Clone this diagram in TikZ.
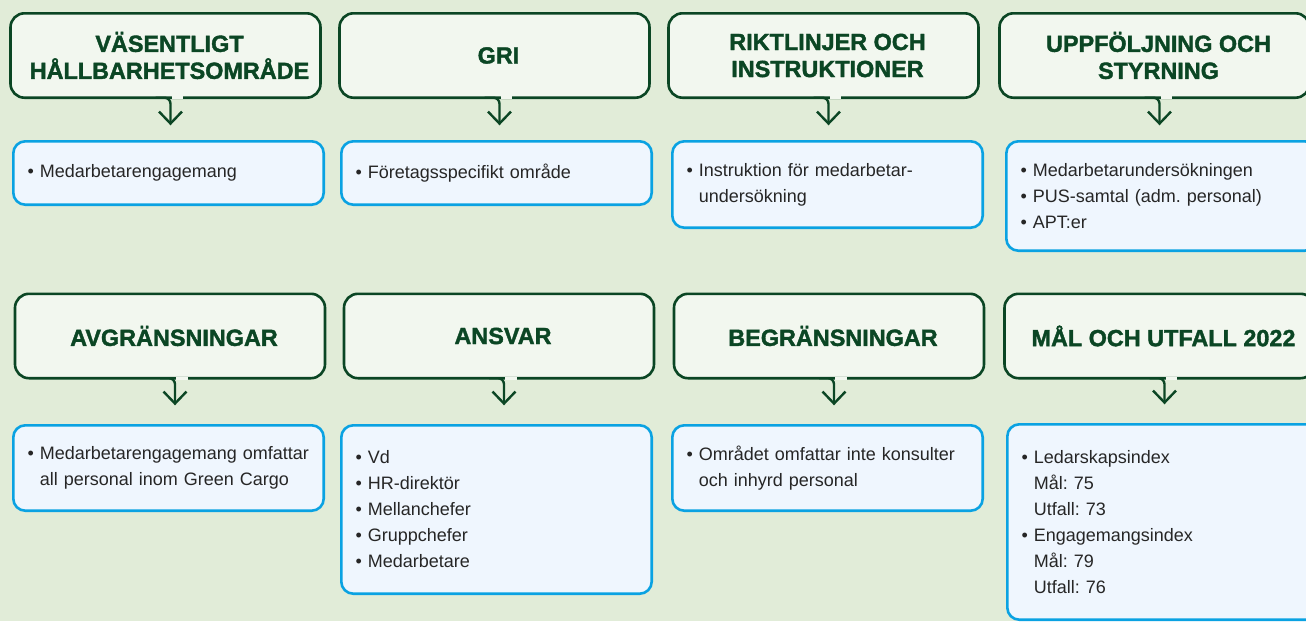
\documentclass[tikz,border=0pt]{standalone}
\usepackage{fontspec}
\setmainfont{Liberation Sans}[BoldFeatures={FakeBold=1.6}]
\usetikzlibrary{arrows.meta}

\definecolor{bgGreen}{HTML}{E1ECD8}
\definecolor{headFill}{HTML}{F2F7EF}
\definecolor{darkGreen}{HTML}{0B4624}
\definecolor{infoBlue}{HTML}{0AA2E2}
\definecolor{infoFill}{HTML}{EFF6FE}
\definecolor{bodyGray}{HTML}{262626}

\newcommand{\itm}{\textbullet\ }
\newcommand{\cnt}{\hphantom{\textbullet\ }}
\frenchspacing

\begin{document}
\begin{tikzpicture}[x=1pt,y=-1pt,
    head/.style={draw=darkGreen, fill=headFill, line width=2.6pt, rounded corners=14pt,
      minimum width=310pt, minimum height=84.4pt, inner sep=0pt, outer sep=0pt},
    title/.style={text=darkGreen, align=center, xshift=4pt,
      font=\fontsize{23.4}{27}\selectfont\bfseries},
    info/.style={draw=infoBlue, fill=infoFill, line width=2.6pt, rounded corners=12pt,
      minimum width=310.4pt, text width=282pt, inner xsep=14.2pt, inner ysep=0pt,
      outer sep=0pt, align=left, anchor=north, text=bodyGray,
      font=\fontsize{18}{26}\selectfont},
    gap/.style={draw=headFill, line width=3.2pt},
    conn/.style={draw=darkGreen, line width=2.4pt, rounded corners=6pt,
      -{Straight Barb[length=12pt,width=23pt]}}]
  \useasboundingbox (0,0) rectangle (1306,621);
  \clip (0,0) rectangle (1306,621);
  \fill[bgGreen] (0,0) rectangle (1306,621);

  % upper row
  \node[head, label={[title]center:{VÄSENTLIGT\\HÅLLBARHETSOMRÅDE}}] (hd1) at (165.5,55.5) {};
  \node[head, label={[title]center:{GRI}}] (hd2) at (494.5,55.5) {};
  \node[head, label={[title]center:{RIKTLINJER OCH\\INSTRUKTIONER}}] (hd3) at (823.5,55.5) {};
  \node[head, label={[title]center:{UPPFÖLJNING OCH\\STYRNING}}] (hd4) at (1154.5,55.5) {};

  \node[info, minimum height=63.4pt] (bx1) at (168.5,141.3) {\itm Medarbetarengagemang};
  \node[info, minimum height=63.4pt] (bx2) at (496.5,141.3) {\itm Företagsspecifikt område};
  \node[info, minimum height=86.4pt] (bx3) at (827.5,141.3)
    {\itm Instruktion för medarbetar-\\\cnt undersökning};
  \node[info, minimum height=109.4pt] (bx4) at (1161.5,141.3)
    {\itm Medarbetarundersökningen\\\itm PUS-samtal (adm. personal)\\\itm APT:er};

  % lower row
  \node[head, label={[title]center:{AVGRÄNSNINGAR}}] (hd5) at (170,336) {};
  \node[head, label={[title]center:{ANSVAR}}] (hd6) at (499,336) {};
  \node[head, label={[title]center:{BEGRÄNSNINGAR}}] (hd7) at (829,336) {};
  \node[head, label={[title]center:{MÅL OCH UTFALL 2022}}] (hd8) at (1159.5,336) {};

  \node[info, minimum height=85.4pt] (bx5) at (168.5,425.3)
    {\itm Medarbetarengagemang omfattar\\\cnt all personal inom Green Cargo};
  \node[info, minimum height=168.4pt] (bx6) at (496.5,425.3)
    {\itm Vd\\\itm HR-direktör\\\itm Mellanchefer\\\itm Gruppchefer\\\itm Medarbetare};
  \node[info, minimum height=85.4pt] (bx7) at (827.5,425.3)
    {\itm Området omfattar inte konsulter\\\cnt och inhyrd personal};
  \node[info, minimum height=195.4pt] (bx8) at (1162.5,424.3)
    {\itm Ledarskapsindex\\\cnt Mål: 75\\\cnt Utfall: 73\\\itm Engagemangsindex\\\cnt Mål: 79\\\cnt Utfall: 76};

  % pointers from the headers
  \foreach \i in {1,...,4} {
    \draw[gap] ([xshift=6pt]hd\i.south) -- ([xshift=17.5pt]hd\i.south);
    \draw[conn, shorten >=16pt] ([xshift=-10pt]hd\i.south) -- ([xshift=5pt]hd\i.south)
      -- ([xshift=5pt]hd\i.south |- bx\i.north);
  }
  \foreach \i in {5,...,8} {
    \draw[gap] ([xshift=6pt]hd\i.south) -- ([xshift=17.5pt]hd\i.south);
    \draw[conn, shorten >=20pt] ([xshift=-10pt]hd\i.south) -- ([xshift=5pt]hd\i.south)
      -- ([xshift=5pt]hd\i.south |- bx\i.north);
  }
\end{tikzpicture}
\end{document}
